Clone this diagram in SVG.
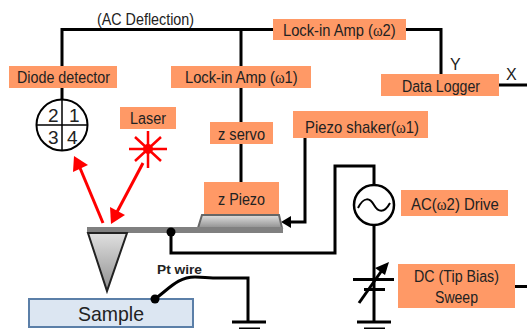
<svg xmlns="http://www.w3.org/2000/svg" width="527" height="329" viewBox="0 0 527 329">
<style>
text{font-family:"Liberation Sans",Arial,sans-serif;fill:#222;font-size:16px}
.box{fill:#ff9966;stroke:none}
.w{fill:none;stroke:#000;stroke-width:3}
.t{fill:none;stroke:#000;stroke-width:2}
.r{fill:none;stroke:#f00;stroke-width:3}
.s{font-family:"Liberation Serif","DejaVu Serif",serif}
.d{font-size:19px}
.pt{font-size:12px;font-weight:bold}
.sm{font-size:21px}
</style>
<defs>
<linearGradient id="g" x1="0" y1="0" x2="0" y2="1"><stop offset="0" stop-color="#e0e0e0"/><stop offset="1" stop-color="#909090"/></linearGradient>
</defs>
<g id="connectors">
<path class="w" d="M62 66V29.5H273M241 29.5V182M406 29.5H441V74"/>
<path class="w" d="M62 88V100"/>
<path class="w" d="M305 138V222H290"/>
<path class="w" d="M171 232V253H335V166H374V186"/>
<path class="w" d="M374 226V322"/>
<path class="w" d="M499 85H527M515 286.500H527"/>
<path class="w" d="M155 299C170 288 178 277 195 277C205 277 205 278 213 278H248V322"/>
<path class="w" d="M353 279.500H394M364 289.500H385"/>
<path class="w" d="M359 303L385 266"/>
<path d="M389 262L375 268L385 275Z" fill="#000"/>
<path class="w" d="M232 322H266M239 329H260M357 322H391M364 329H385"/>
<path d="M281 222L291 216V228Z" fill="#000"/>
<path class="r" d="M103 223L80 168"/>
<path d="M74 156L88 165L73 172Z" fill="#f00"/>
<path class="r" d="M143 163L117 212"/>
<path d="M111 224L110 207L125 215Z" fill="#f00"/>
</g>
<g id="ac-deflection"><text x="97" y="25" textLength="97" lengthAdjust="spacingAndGlyphs">(AC Deflection)</text></g>
<g id="lockin2"><rect class="box" x="273" y="19" width="133" height="21"/><text transform="translate(283 36) scale(.92 1)">Lock-in Amp (<tspan class="s">ω</tspan>2)</text></g>
<g id="diode"><rect class="box" x="9" y="66" width="108" height="22"/><text x="17" y="83" textLength="93" lengthAdjust="spacingAndGlyphs">Diode detector</text>
<circle class="t" cx="62" cy="125" r="25.500" fill="#fff"/><path d="M62 100V151M37 125H88" fill="none" stroke="#000" stroke-width="1.500"/>
<text class="d" x="48" y="122">2</text><text class="d" x="69" y="122">1</text><text class="d" x="48" y="144">3</text><text class="d" x="67" y="144">4</text></g>
<g id="lockin1"><rect class="box" x="171" y="66" width="140" height="22"/><text transform="translate(185 83) scale(.92 1)">Lock-in Amp (<tspan class="s">ω</tspan>1)</text></g>
<g id="laser"><rect class="box" x="120" y="107" width="56" height="22"/><text x="130" y="124" textLength="36" lengthAdjust="spacingAndGlyphs">Laser</text>
<path d="M148 131V168M129 149H167M135 137L161 161M161 137L135 161" stroke="#f00" stroke-width="2.500" fill="none"/><circle cx="148" cy="149" r="5" fill="#f00"/></g>
<g id="datalogger"><rect class="box" x="381" y="74" width="118" height="22"/><text x="402" y="92" textLength="78" lengthAdjust="spacingAndGlyphs">Data Logger</text></g>
<g id="labels"><text x="450" y="70">Y</text><text x="506" y="80">X</text></g>
<g id="zservo"><rect class="box" x="210" y="122" width="63" height="22"/><text x="218" y="140" textLength="47" lengthAdjust="spacingAndGlyphs">z servo</text></g>
<g id="shaker"><rect class="box" x="293" y="111" width="135" height="27"/><text transform="translate(305 133) scale(.93 1)">Piezo shaker(<tspan class="s">ω</tspan>1)</text></g>
<g id="shaker-body"><path d="M202 215H279L282 228H198Z" fill="url(#g)" stroke="#666" stroke-width="2"/></g>
<g id="zpiezo"><rect class="box" x="204" y="182" width="75" height="32"/><text x="218" y="205" textLength="47" lengthAdjust="spacingAndGlyphs">z Piezo</text></g>
<g id="cantilever"><rect x="87" y="227" width="196" height="6" fill="#808080"/>
<path d="M88 233H127L107 291Z" fill="url(#g)" stroke="#222" stroke-width="2"/>
<circle cx="171" cy="232" r="4.500" fill="#000"/></g>
<g id="ac-source"><circle cx="374" cy="205" r="20" fill="#fff" stroke="#000" stroke-width="2.500"/><path class="t" d="M358 208C364 196 370 198 374 205C378 212 384 214 390 203"/>
<rect class="box" x="401" y="190" width="107" height="26"/><text transform="translate(411 210) scale(.935 1)">AC(<tspan class="s">ω</tspan>2) Drive</text></g>
<g id="dc"><rect class="box" x="398" y="264" width="117" height="44"/><text x="414" y="282" textLength="85" lengthAdjust="spacingAndGlyphs">DC (Tip Bias)</text><text x="435" y="303" textLength="43" lengthAdjust="spacingAndGlyphs">Sweep</text></g>
<g id="sample"><rect x="29" y="299" width="164" height="28" fill="#dce6f2" stroke="#5b7fa8" stroke-width="2"/><text class="sm" x="78" y="321" textLength="66" lengthAdjust="spacingAndGlyphs">Sample</text><circle cx="155" cy="299" r="4.500" fill="#000"/></g>
<g id="ptwire"><text class="pt" x="157" y="274" textLength="45" lengthAdjust="spacingAndGlyphs">Pt wire</text></g>
</svg>
